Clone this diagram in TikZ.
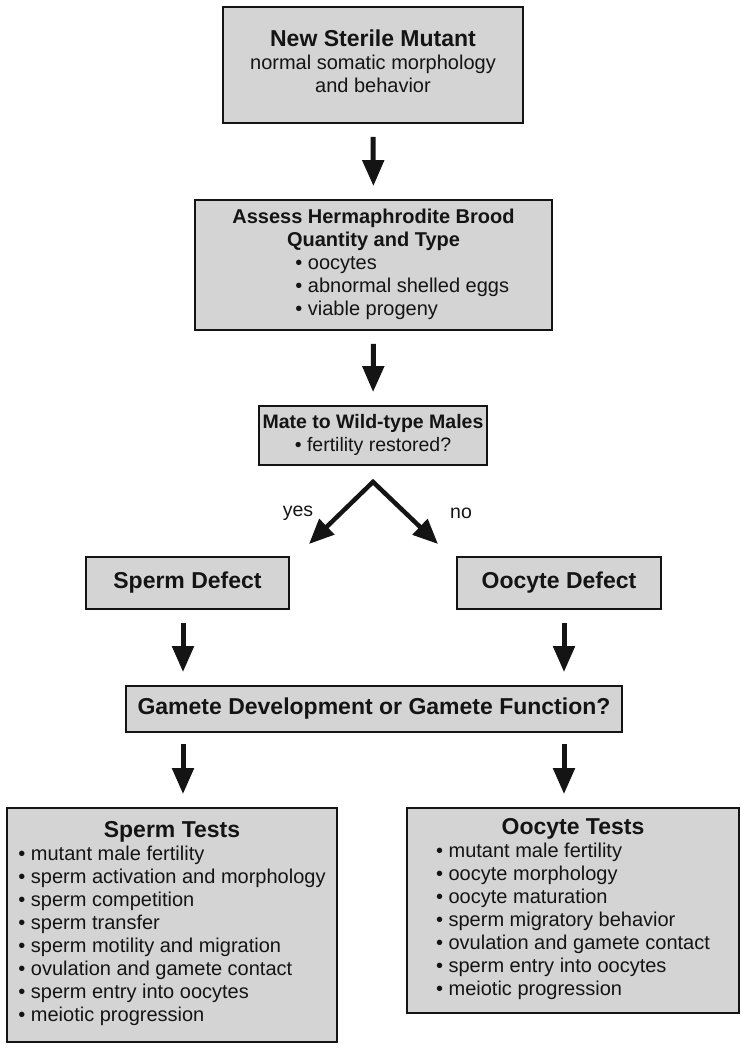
\documentclass[tikz,border=0pt]{standalone}
\usepackage{fontspec}
\setmainfont{Liberation Sans}
\usetikzlibrary{arrows.meta,calc}
\definecolor{boxgray}{RGB}{212,212,212}
\definecolor{ink}{RGB}{20,20,20}
\newcommand{\bigbf}[1]{{\fontsize{23}{25}\selectfont\bfseries #1}}
\begin{document}
\begin{tikzpicture}[x=1pt,y=-1pt,
  box/.style={draw=ink, line width=1.8pt, fill=boxgray, inner sep=0pt, align=center, text=ink,
    font=\fontsize{20}{23}\selectfont},
  arr/.style={draw=ink, line width=5pt, -{Triangle[length=26pt,width=21pt]},
    shorten <=13pt, shorten >=13pt},
  lbl/.style={inner sep=0pt, text=ink, font=\fontsize{19.5}{23}\selectfont}]
\useasboundingbox (0,0) rectangle (747,1050);

% boxes
\node[box, minimum width=300pt, minimum height=116pt] (top) at (373,65)
  {\begin{tabular}{@{}c@{}}\bigbf{New Sterile Mutant}\\ normal somatic morphology\\ and behavior\end{tabular}};

\node[box, minimum width=357pt, minimum height=130pt] (brood) at (373.5,265)
  {\begin{tabular}{@{}l@{}}
   \multicolumn{1}{@{}c@{}}{\bfseries Assess Hermaphrodite Brood}\\
   \multicolumn{1}{@{}c@{}}{\bfseries Quantity and Type}\\
   \hspace*{63pt}• oocytes\\
   \hspace*{63pt}• abnormal shelled eggs\\
   \hspace*{63pt}• viable progeny
   \end{tabular}};

\node[box, minimum width=228pt, minimum height=59pt, font=\fontsize{19.5}{23}\selectfont] (mate) at (373,435.5)
  {\begin{tabular}{@{}c@{}}\bfseries Mate to Wild-type Males\\ • fertility restored?\end{tabular}};

\node[box, minimum width=203pt, minimum height=52pt] (sd) at (187.5,583) {\bigbf{Sperm Defect}};
\node[box, minimum width=204pt, minimum height=52pt] (od) at (559,583) {\bigbf{Oocyte Defect}};

\node[box, minimum width=496pt, minimum height=46pt] (gam) at (374,709)
  {\bigbf{Gamete Development or Gamete Function?}};

\node[box, minimum width=330pt, minimum height=234pt] (st) at (172,925)
  {\begin{tabular}{@{}l@{}}
   \multicolumn{1}{@{}c@{}}{\bigbf{Sperm Tests}}\\
   • mutant male fertility\\
   • sperm activation and morphology\\
   • sperm competition\\
   • sperm transfer\\
   • sperm motility and migration\\
   • ovulation and gamete contact\\
   • sperm entry into oocytes\\
   • meiotic progression
   \end{tabular}};

\node[box, minimum width=332pt, minimum height=205pt] (ot) at (573,910.5)
  {\begin{tabular}{@{}l@{}}
   \multicolumn{1}{@{}c@{}}{\bigbf{Oocyte Tests}}\\
   • mutant male fertility\\
   • oocyte morphology\\
   • oocyte maturation\\
   • sperm migratory behavior\\
   • ovulation and gamete contact\\
   • sperm entry into oocytes\\
   • meiotic progression
   \end{tabular}};

% labels
\node[lbl] (yes) at (298,513) {yes};
\node[lbl] (no) at (461,513) {no};

% helper coordinates
\coordinate (lx) at (183,0);
\coordinate (rx) at (564,0);
\coordinate (split) at ($(mate.south)+(0,16)$);
\coordinate (yt) at (309,544);
\coordinate (nt) at (438,544);

% connectors
\draw[arr] (top.south) -- (brood.north);
\draw[arr] (brood.south) -- (mate.north);
\draw[draw=ink, line width=4.5pt, line join=miter,
  {Triangle[length=25pt,width=21pt]}-{Triangle[length=25pt,width=21pt]}]
  (yt) -- (split) -- (nt);
\draw[arr] (sd.south -| lx) -- (gam.north -| lx);
\draw[arr] (od.south -| rx) -- (gam.north -| rx);
\draw[arr, shorten <=11pt] (gam.south -| lx) -- (st.north -| lx);
\draw[arr, shorten <=11pt] (gam.south -| rx) -- (ot.north -| rx);
\end{tikzpicture}
\end{document}
